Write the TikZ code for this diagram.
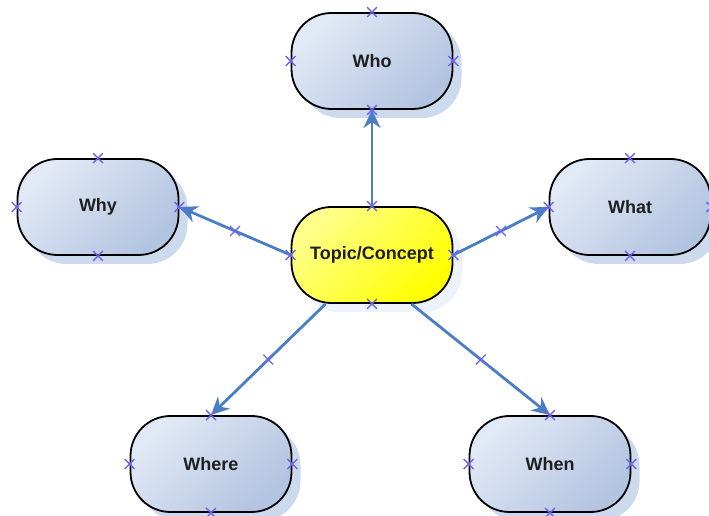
\documentclass[tikz,border=0pt]{standalone}
\usepackage{fontspec}
\setmainfont{Liberation Sans}
\usetikzlibrary{arrows.meta,shapes.misc,shadows}

\definecolor{linkblue}{RGB}{74,126,196}
\definecolor{markblue}{RGB}{110,100,235}
\definecolor{shadeblue}{RGB}{205,218,238}
\definecolor{lightbox}{RGB}{226,233,246}
\definecolor{darkbox}{RGB}{178,196,224}
\definecolor{topicshadow}{RGB}{238,242,250}
\definecolor{labelink}{RGB}{30,30,30}

\tikzset{
  bubble/.style={rectangle, rounded corners=40pt, draw=black, line width=1.8pt,
    minimum width=161pt, minimum height=96pt, inner sep=0pt,
    top color=lightbox, bottom color=darkbox, shading angle=45,
    drop shadow={shadow xshift=9pt, shadow yshift=-9pt, fill=shadeblue, opacity=1},
    font=\bfseries\fontsize{18}{21}\selectfont, text=labelink},
  topicbubble/.style={bubble, top color=yellow!45!white, middle color=yellow,
    bottom color=yellow, shading angle=45,
    drop shadow={shadow xshift=9pt, shadow yshift=-9pt, fill=topicshadow, opacity=1}},
  link/.style={draw=linkblue, line width=2.8pt, -{Stealth[length=18pt,width=17pt]}},
  xmark/.style={cross out, draw=markblue, line width=1.3pt, minimum size=8.5pt, inner sep=0pt}
}

\begin{document}
\begin{tikzpicture}[x=1pt,y=1pt]
\useasboundingbox (0,0) rectangle (709,516);

% concept nodes
\node[topicbubble] (topic) at (372,261) {Topic/Concept};
\node[bubble] (who)   at (372,455) {Who};
\node[bubble] (why)   at (98,309)  {Why};
\node[bubble] (what)  at (630,309) {What};
\node[bubble] (where) at (211,52)  {Where};
\node[bubble] (when)  at (550,52)  {When};

% free start points on the lower edge of the topic node
\coordinate (swhere) at ([xshift=35pt]topic.south west);
\coordinate (swhen)  at ([xshift=-42pt]topic.south east);

% connectors, each with a midpoint handle
\draw[link] (topic.north) -- (who.south);
\draw[link] (topic.west) -- node[xmark] (mwhy) {} (why.east);
\draw[link] (topic.east) -- node[xmark] (mwhat) {} (what.west);
\draw[link] (swhere) -- node[xmark] (mwhere) {} (where.north);
\draw[link] (swhen) -- node[xmark] (mwhen) {} (when.north);

% connection handles on each node
\foreach \n in {topic,who,why,what,where,when}{
  \foreach \a in {north,south,east,west}{
    \node[xmark] at (\n.\a) {};
  }
}
\end{tikzpicture}
\end{document}
